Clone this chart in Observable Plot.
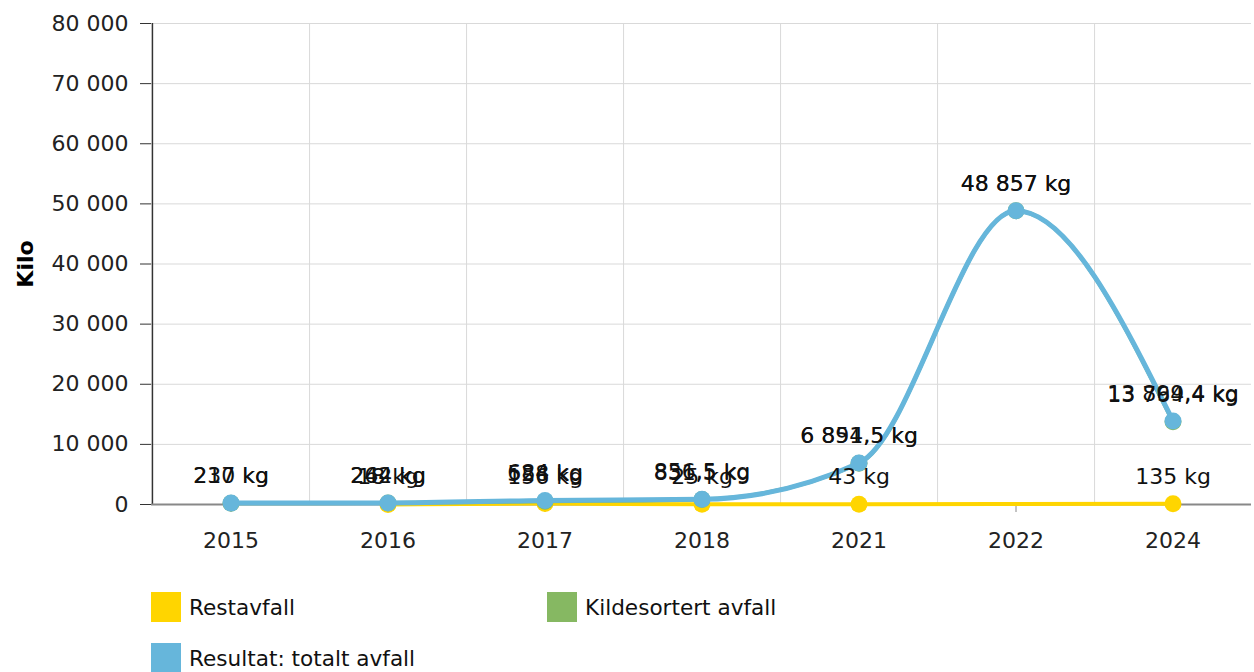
<!DOCTYPE html>
<html>
<head>
<meta charset="utf-8">
<script src="https://cdn.jsdelivr.net/npm/d3@7"></script>
<script src="https://cdn.jsdelivr.net/npm/@observablehq/plot@0.6"></script>
<style>
  body { margin: 0; background: #fff; font-family: "DejaVu Sans", Verdana, sans-serif; }
  #wrap { position: relative; width: 1254px; height: 672px; overflow: hidden; }
  .leg { position: absolute; display: flex; align-items: center; font-size: 21.6px; color: #111; }
  .sw { width: 30px; height: 30px; margin-right: 8px; }
</style>
</head>
<body>
<div id="wrap">
  <div id="chart"></div>
  <div class="leg" style="left:151px; top:592px;"><div class="sw" style="background:#FFD500"></div>Restavfall</div>
  <div class="leg" style="left:547px; top:592px;"><div class="sw" style="background:#86B862"></div>Kildesortert avfall</div>
  <div class="leg" style="left:151px; top:643px;"><div class="sw" style="background:#66B6DB"></div>Resultat: totalt avfall</div>
</div>
<script>
const years = ["2015", "2016", "2017", "2018", "2021", "2022", "2024"];
const restavfall = [null, 18, 156, 25, 43, null, 135];
const kildesortert = [217, 244, 528, 831.5, 6851.5, 48857, 13764.4];
const totalt = [230, 262, 684, 856.5, 6894.5, 48857, 13899.4];
const yTicks = [0, 10000, 20000, 30000, 40000, 50000, 60000, 70000, 80000];

const colors = { rest: "#FFD500", kilde: "#86B862", total: "#66B6DB" };

const loc = d3.formatLocale({ decimal: ",", thousands: "\u00a0", grouping: [3], currency: ["", ""] });
const fInt = loc.format(",");
const fDec = loc.format(",.1f");
const fmtKg = v => (Number.isInteger(v) ? fInt(v) : fDec(v)) + " kg";
const fmtTick = v => fInt(v);

const mk = vals => years.map((y, i) => ({ year: y, value: vals[i] })).filter(d => d.value != null);
const rest = mk(restavfall), kilde = mk(kildesortert), total = mk(totalt);

const W = 1254, H = 575, ML = 151, MR = 3, MT = 23, MB = 71;
const bw = (W - ML - MR) / years.length;
const FS = 22;

const labelOpts = { x: "year", y: "value", text: d => fmtKg(d.value), dy: -27, fontSize: FS, fill: "#111" };

const chart = Plot.plot({
  width: W, height: H,
  marginLeft: ML, marginRight: MR, marginTop: MT, marginBottom: MB,
  style: { fontFamily: "DejaVu Sans, Verdana, sans-serif", fontSize: FS + "px", color: "#222", background: "#fff" },
  x: { type: "band", domain: years, paddingInner: 0, paddingOuter: 0 },
  y: { domain: [0, 80000] },
  marks: [
    Plot.gridY(yTicks.slice(1), { stroke: "#d9d9d9", strokeOpacity: 1, strokeWidth: 1 }),
    Plot.ruleX(years.slice(0, -1), { dx: bw / 2, y1: 0, y2: 80000, stroke: "#d9d9d9", strokeWidth: 1 }),
    Plot.ruleX([years[0]], { dx: -bw / 2, y1: 0, y2: 80000, stroke: "#333", strokeWidth: 1.5 }),
    Plot.axisY({ ticks: yTicks, tickFormat: fmtTick, tickSize: 11, tickPadding: 12, label: null, stroke: "#333", fontSize: FS }),
    Plot.axisX({ tickSize: 8, tickPadding: 20, label: null, stroke: "#888", fontSize: FS }),
    Plot.ruleY([0], { stroke: "#888", strokeWidth: 2 }),
    Plot.text(["Kilo"], { text: d => d, frameAnchor: "left", textAnchor: "middle", dx: -126, rotate: -90, fontWeight: "bold", fontSize: FS, fill: "#000" }),
    Plot.line(rest, { x: "year", y: "value", stroke: colors.rest, strokeWidth: 4, curve: "monotone-x" }),
    Plot.dot(rest, { x: "year", y: "value", r: 8.5, fill: colors.rest }),
    Plot.line(kilde, { x: "year", y: "value", stroke: colors.kilde, strokeWidth: 4, curve: "monotone-x" }),
    Plot.dot(kilde, { x: "year", y: "value", r: 8.5, fill: colors.kilde }),
    Plot.line(total, { x: "year", y: "value", stroke: colors.total, strokeWidth: 5, curve: "monotone-x" }),
    Plot.dot(total, { x: "year", y: "value", r: 8.5, fill: colors.total }),
    Plot.text(rest, labelOpts),
    Plot.text(kilde, labelOpts),
    Plot.text(total, labelOpts)
  ]
});
document.getElementById("chart").appendChild(chart);
</script>
</body>
</html>
